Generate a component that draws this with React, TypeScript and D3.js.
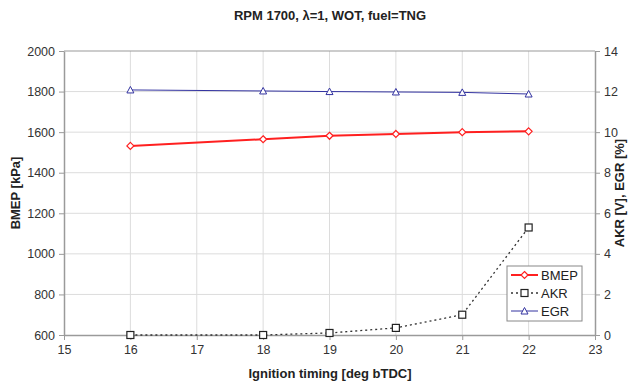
import React, { useEffect, useRef } from 'react'
import * as d3 from 'd3'

const timing = [16, 18, 19, 20, 21, 22]
const bmep = [1532, 1565, 1582, 1591, 1600, 1604]
const akr = [0, 0, 0.1, 0.35, 1.0, 5.3]
const egr = [12.08, 12.03, 12.0, 11.98, 11.96, 11.88]

const xTicks = [15, 16, 17, 18, 19, 20, 21, 22, 23]
const leftTicks = [600, 800, 1000, 1200, 1400, 1600, 1800, 2000]
const rightTicks = [0, 2, 4, 6, 8, 10, 12, 14]

const W = 629
const H = 385

export default function App() {
    const svgRef = useRef<SVGSVGElement>(null)

    useEffect(() => {
        if (!svgRef.current) return
        const svg = d3.select(svgRef.current)
        svg.selectAll("*").remove()

        const left = 64, right = 595, top = 51, bottom = 335
        const font = "'Liberation Sans', Arial, sans-serif"

        const x = d3.scaleLinear().domain([15, 23]).range([left, right])
        const yL = d3.scaleLinear().domain([600, 2000]).range([bottom, top])
        const yR = d3.scaleLinear().domain([0, 14]).range([bottom, top])

        svg.append("rect").attr("width", W).attr("height", H).attr("fill", "#fff")

        // grid
        const grid = svg.append("g").attr("stroke", "#dcdcdc").attr("stroke-width", 1)
        xTicks.slice(1, -1).forEach(t => {
            grid.append("line").attr("x1", x(t)).attr("x2", x(t)).attr("y1", top).attr("y2", bottom)
        })
        leftTicks.slice(1, -1).forEach(t => {
            grid.append("line").attr("x1", left).attr("x2", right).attr("y1", yL(t)).attr("y2", yL(t))
        })

        // axes
        const axisColor = "#9a9a9a"
        const styleAxis = (g: d3.Selection<SVGGElement, unknown, null, undefined>) => {
            g.select(".domain").attr("stroke", axisColor).attr("stroke-width", 1.5)
            g.selectAll(".tick line").attr("stroke", axisColor)
            g.selectAll(".tick text").attr("fill", "#333").attr("font-size", 12.5).attr("font-family", font)
        }

        svg.append("line").attr("x1", left).attr("x2", right).attr("y1", top).attr("y2", top)
            .attr("stroke", axisColor).attr("stroke-width", 1.2)

        const gx = svg.append("g").attr("transform", `translate(0,${bottom})`)
            .call(d3.axisBottom(x).tickValues(xTicks).tickSize(5).tickSizeOuter(0).tickPadding(5).tickFormat(d3.format("d")))
        styleAxis(gx)

        const gl = svg.append("g").attr("transform", `translate(${left},0)`)
            .call(d3.axisLeft(yL).tickValues(leftTicks).tickSize(5).tickSizeOuter(0).tickPadding(4).tickFormat(d3.format("d")))
        styleAxis(gl)

        const gr = svg.append("g").attr("transform", `translate(${right},0)`)
            .call(d3.axisRight(yR).tickValues(rightTicks).tickSize(5).tickSizeOuter(0).tickPadding(4).tickFormat(d3.format("d")))
        styleAxis(gr)

        // series
        const idx = d3.range(timing.length)

        const lineAkr = d3.line<number>().x(i => x(timing[i])).y(i => yR(akr[i]))
        svg.append("path").attr("d", lineAkr(idx)).attr("fill", "none")
            .attr("stroke", "#333").attr("stroke-width", 1.3).attr("stroke-dasharray", "2,3")

        const lineEgr = d3.line<number>().x(i => x(timing[i])).y(i => yR(egr[i]))
        svg.append("path").attr("d", lineEgr(idx)).attr("fill", "none")
            .attr("stroke", "#3333a0").attr("stroke-width", 1)

        const lineBmep = d3.line<number>().x(i => x(timing[i])).y(i => yL(bmep[i]))
        svg.append("path").attr("d", lineBmep(idx)).attr("fill", "none")
            .attr("stroke", "#ff2020").attr("stroke-width", 2)

        const diamond = (cx: number, cy: number) => `M${cx},${cy - 3.5}L${cx + 3.5},${cy}L${cx},${cy + 3.5}L${cx - 3.5},${cy}Z`
        const triangle = (cx: number, cy: number) => `M${cx},${cy - 3.5}L${cx + 3.5},${cy + 3}L${cx - 3.5},${cy + 3}Z`

        idx.forEach(i => {
            svg.append("rect").attr("x", x(timing[i]) - 3.5).attr("y", yR(akr[i]) - 3.5)
                .attr("width", 7).attr("height", 7).attr("fill", "#fff").attr("stroke", "#222").attr("stroke-width", 1.2)
            svg.append("path").attr("d", triangle(x(timing[i]), yR(egr[i])))
                .attr("fill", "#fff").attr("stroke", "#3333a0").attr("stroke-width", 1)
            svg.append("path").attr("d", diamond(x(timing[i]), yL(bmep[i])))
                .attr("fill", "#fff").attr("stroke", "#ff2020").attr("stroke-width", 1.2)
        })

        // legend
        const lg = svg.append("g")
        lg.append("rect").attr("x", 507).attr("y", 266).attr("width", 75).attr("height", 55)
            .attr("fill", "#fff").attr("stroke", "#888").attr("stroke-width", 1)
        const items = [
            { name: "BMEP", color: "#ff2020", width: 2, dash: null as string | null, marker: "d" },
            { name: "AKR", color: "#333", width: 1.3, dash: "2,3", marker: "s" },
            { name: "EGR", color: "#3333a0", width: 1, dash: null, marker: "t" },
        ]
        items.forEach((it, k) => {
            const cy = 275 + k * 18
            const l = lg.append("line").attr("x1", 511).attr("x2", 538).attr("y1", cy).attr("y2", cy)
                .attr("stroke", it.color).attr("stroke-width", it.width)
            if (it.dash) l.attr("stroke-dasharray", it.dash)
            const mx = 524.5
            if (it.marker === "d") lg.append("path").attr("d", diamond(mx, cy)).attr("fill", "#fff").attr("stroke", it.color).attr("stroke-width", 1.2)
            if (it.marker === "s") lg.append("rect").attr("x", mx - 3.5).attr("y", cy - 3.5).attr("width", 7).attr("height", 7).attr("fill", "#fff").attr("stroke", "#222").attr("stroke-width", 1.2)
            if (it.marker === "t") lg.append("path").attr("d", triangle(mx, cy)).attr("fill", "#fff").attr("stroke", it.color)
            lg.append("text").attr("x", 541).attr("y", cy + 4.5).text(it.name)
                .attr("font-family", font).attr("font-size", 13).attr("fill", "#222")
        })

        // titles
        svg.append("text").attr("x", 330).attr("y", 20).attr("text-anchor", "middle")
            .attr("font-family", font).attr("font-size", 13).attr("font-weight", "bold").attr("fill", "#222")
            .text("RPM 1700, \u03bb=1, WOT, fuel=TNG")
        svg.append("text").attr("x", 330).attr("y", 378).attr("text-anchor", "middle")
            .attr("font-family", font).attr("font-size", 13).attr("font-weight", "bold").attr("fill", "#222")
            .text("Ignition timing [deg bTDC]")
        svg.append("text").attr("transform", `translate(20,${(top + bottom) / 2}) rotate(-90)`).attr("text-anchor", "middle")
            .attr("font-family", font).attr("font-size", 13).attr("font-weight", "bold").attr("fill", "#222")
            .text("BMEP [kPa]")
        svg.append("text").attr("transform", `translate(624,${(top + bottom) / 2}) rotate(-90)`).attr("text-anchor", "middle")
            .attr("font-family", font).attr("font-size", 13).attr("font-weight", "bold").attr("fill", "#222")
            .text("AKR [V], EGR [%]")
    }, [])

    return (
        <svg ref={svgRef} width={W} height={H} viewBox={`0 0 ${W} ${H}`}
            style={{ position: 'absolute', left: 0, top: 0, display: 'block' }} />
    )
}
